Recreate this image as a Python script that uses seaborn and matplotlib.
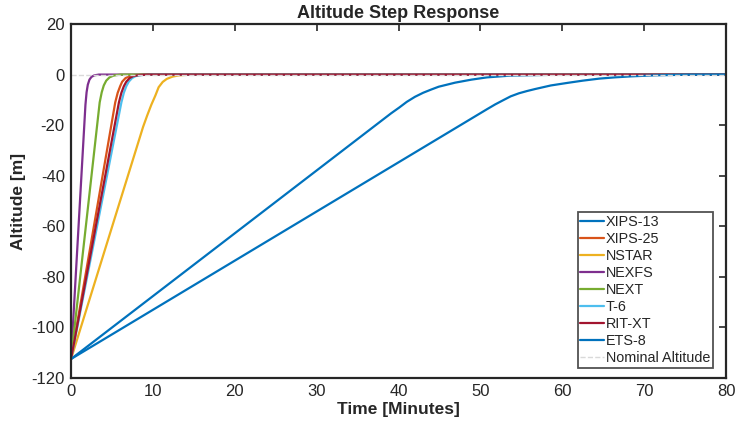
import seaborn as sns
import matplotlib.pyplot as plt
import pandas as pd

# Curves: (time in minutes, altitude in m)
xips13_t = [0, 39.1, 40.1, 41.0, 42.0, 43.0, 44.0, 44.9, 45.9, 46.9, 48.9,
            50.8, 53.7, 58.6, 63.5, 80]
xips13_y = [-112.5, -15.3, -13.0, -10.8, -8.8, -7.2, -5.9, -4.8, -4.0, -3.2,
            -2.0, -1.1, -0.4, -0.1, 0, 0]

xips25_t = [0, 5.4, 5.7, 6.0, 6.25, 6.65, 7.15, 7.8, 8.8, 80]
xips25_y = [-112.5, -11, -7.2, -4.6, -2.8, -1.4, -0.6, -0.2, 0, 0]

nstar_t = [0, 8.8, 9.3, 9.8, 10.3, 10.7, 11.2, 11.7, 12.4, 13.2, 14.7, 80]
nstar_y = [-112.5, -20.7, -16.2, -12.0, -8.3, -5.0, -2.9, -1.7, -0.8, -0.3, 0, 0]

nexfs_t = [0, 1.76, 1.9, 2.05, 2.25, 2.5, 2.85, 3.4, 80]
nexfs_y = [-112.5, -12, -7, -4, -2, -0.9, -0.3, 0, 0]

next_t = [0, 3.5, 3.75, 4.0, 4.3, 4.7, 5.2, 6.05, 80]
next_y = [-112.5, -11, -7, -4.3, -2.4, -1.1, -0.4, 0, 0]

t6_t = [0, 6.15, 6.45, 6.75, 7.05, 7.45, 7.9, 8.6, 9.8, 80]
t6_y = [-112.5, -11, -7.2, -4.6, -2.8, -1.4, -0.6, -0.2, 0, 0]

ritxt_t = [0, 5.85, 6.15, 6.45, 6.75, 7.15, 7.6, 8.3, 9.4, 80]
ritxt_y = [-112.5, -11, -7.2, -4.6, -2.8, -1.4, -0.6, -0.2, 0, 0]

ets8_t = [0, 50.8, 51.8, 52.8, 53.7, 54.7, 55.7, 56.7, 58.6, 60.6, 62.5,
          64.5, 66.4, 68.4, 71.3, 75.2, 80]
ets8_y = [-112.5, -13.7, -11.8, -10.1, -8.6, -7.4, -6.5, -5.7, -4.3, -3.3,
          -2.4, -1.6, -1.1, -0.7, -0.3, -0.05, 0]

nominal_t = [0, 80]
nominal_y = [0, 0]

series = [
    ("XIPS-13", xips13_t, xips13_y, "#0072BD"),
    ("XIPS-25", xips25_t, xips25_y, "#D95319"),
    ("NSTAR", nstar_t, nstar_y, "#EDB120"),
    ("NEXFS", nexfs_t, nexfs_y, "#7E2F8E"),
    ("NEXT", next_t, next_y, "#77AC30"),
    ("T-6", t6_t, t6_y, "#4DBEEE"),
    ("RIT-XT", ritxt_t, ritxt_y, "#A2142F"),
    ("ETS-8", ets8_t, ets8_y, "#0072BD"),
]

sns.set_style("white")
plt.rcParams['font.family'] = ['Liberation Sans', 'DejaVu Sans']
plt.rcParams['axes.unicode_minus'] = False

fig = plt.figure(figsize=(7.36, 4.29), dpi=100)
ax = fig.add_axes([0.0965, 0.119, 0.890, 0.825])

for name, t, y, col in series:
    df = pd.DataFrame({"Time": t, "Altitude": y})
    sns.lineplot(data=df, x="Time", y="Altitude", ax=ax, color=col,
                 linewidth=1.6, label=name, estimator=None, sort=False)

nom = pd.DataFrame({"Time": nominal_t, "Altitude": nominal_y})
sns.lineplot(data=nom, x="Time", y="Altitude", ax=ax, color="#d9d9d9",
             linewidth=1.0, linestyle="--", label="Nominal Altitude",
             estimator=None)

ax.set_xlim(0, 80)
ax.set_ylim(-120, 20)
ax.set_xticks(range(0, 81, 10))
ax.set_yticks(range(-120, 21, 20))
ax.tick_params(direction="in", length=5, width=1.2, top=True, right=True,
               labelsize=12, colors="#262626", pad=4.5)
for sp in ax.spines.values():
    sp.set_linewidth(1.6)
    sp.set_color("#262626")

ax.set_title("Altitude Step Response", fontsize=13, fontweight="bold", pad=4)
ax.set_xlabel("Time [Minutes]", fontsize=12.5, fontweight="bold", labelpad=2)
ax.set_ylabel("Altitude [m]", fontsize=12.5, fontweight="bold", labelpad=4)

leg = ax.legend(loc="lower right", bbox_to_anchor=(0.980, 0.028),
                fontsize=10.4, frameon=True, fancybox=False,
                handlelength=1.6, handletextpad=0.15, borderpad=0.2,
                borderaxespad=0, labelspacing=0.21)
leg.get_frame().set_edgecolor("#262626")
leg.get_frame().set_linewidth(1.3)

fig.savefig("out.png", dpi=100)
